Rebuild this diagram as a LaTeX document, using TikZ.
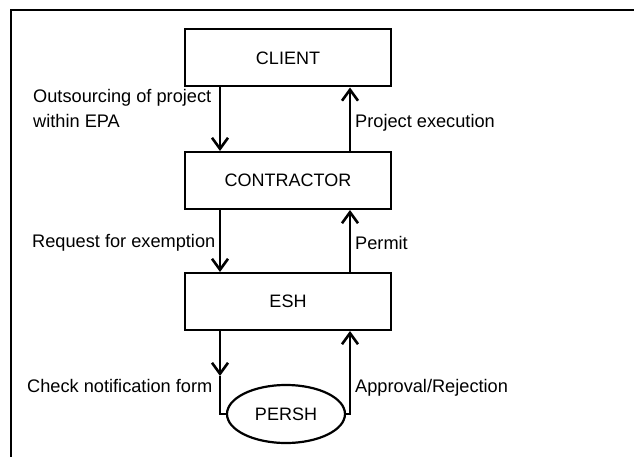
\documentclass[tikz,border=0pt]{standalone}
\usepackage{fontspec}
\setmainfont{Liberation Sans}
\usetikzlibrary{arrows.meta,shapes.geometric}
\begin{document}
\begin{tikzpicture}[x=1pt,y=-1pt,
  box/.style={draw,line width=2pt,minimum width=206pt,minimum height=57pt,inner sep=0pt,font=\fontsize{18}{21}\selectfont},
  oval/.style={draw,ellipse,line width=2.2pt,minimum width=118pt,minimum height=58pt,inner sep=0pt,font=\fontsize{18}{21}\selectfont},
  lbl/.style={inner sep=0pt,font=\fontsize{18.2}{25}\selectfont,align=left},
  arr/.style={line width=1.6pt,-{Straight Barb[length=11pt,width=16pt,line width=2.6pt]}},
  ln/.style={line width=1.6pt}]
\useasboundingbox (0,0) rectangle (634,457);
\fill[white] (0,0) rectangle (634,457);
\draw[line width=2.2pt] (640,10) -- (11,10) -- (11,460);
\node[box] (client) at (288,58) {CLIENT};
\node[box] (contractor) at (288,180.5) {CONTRACTOR};
\node[box] (esh) at (288,301.5) {ESH};
\node[oval] (persh) at (286,414) {PERSH};
\coordinate (dl) at (220,0);
\coordinate (ul) at (350,0);
\draw[arr] (client.south -| dl) -- (contractor.north -| dl);
\draw[arr] (contractor.north -| ul) -- (client.south -| ul);
\draw[arr] (contractor.south -| dl) -- (esh.north -| dl);
\draw[arr] (esh.north -| ul) -- (contractor.south -| ul);
\coordinate (mid) at (220,376);
\draw[arr] (esh.south -| dl) -- (mid);
\draw[ln] (mid) -- (persh.west -| dl) -- (persh.west);
\draw[arr] (persh.east) -- (persh.east -| ul) -- (esh.south -| ul);
\node[lbl,anchor=base west] (l1) at (33,128) {Outsourcing of project\\within EPA};
\node[lbl,anchor=base west] (l2) at (355,128) {Project execution};
\node[lbl,anchor=base west] (l3) at (32,247) {Request for exemption};
\node[lbl,anchor=base west] (l4) at (355,249) {Permit};
\node[lbl,anchor=base west] (l5) at (27,392) {Check notification form};
\node[lbl,anchor=base west] (l6) at (355,392) {Approval/Rejection};
\end{tikzpicture}
\end{document}
